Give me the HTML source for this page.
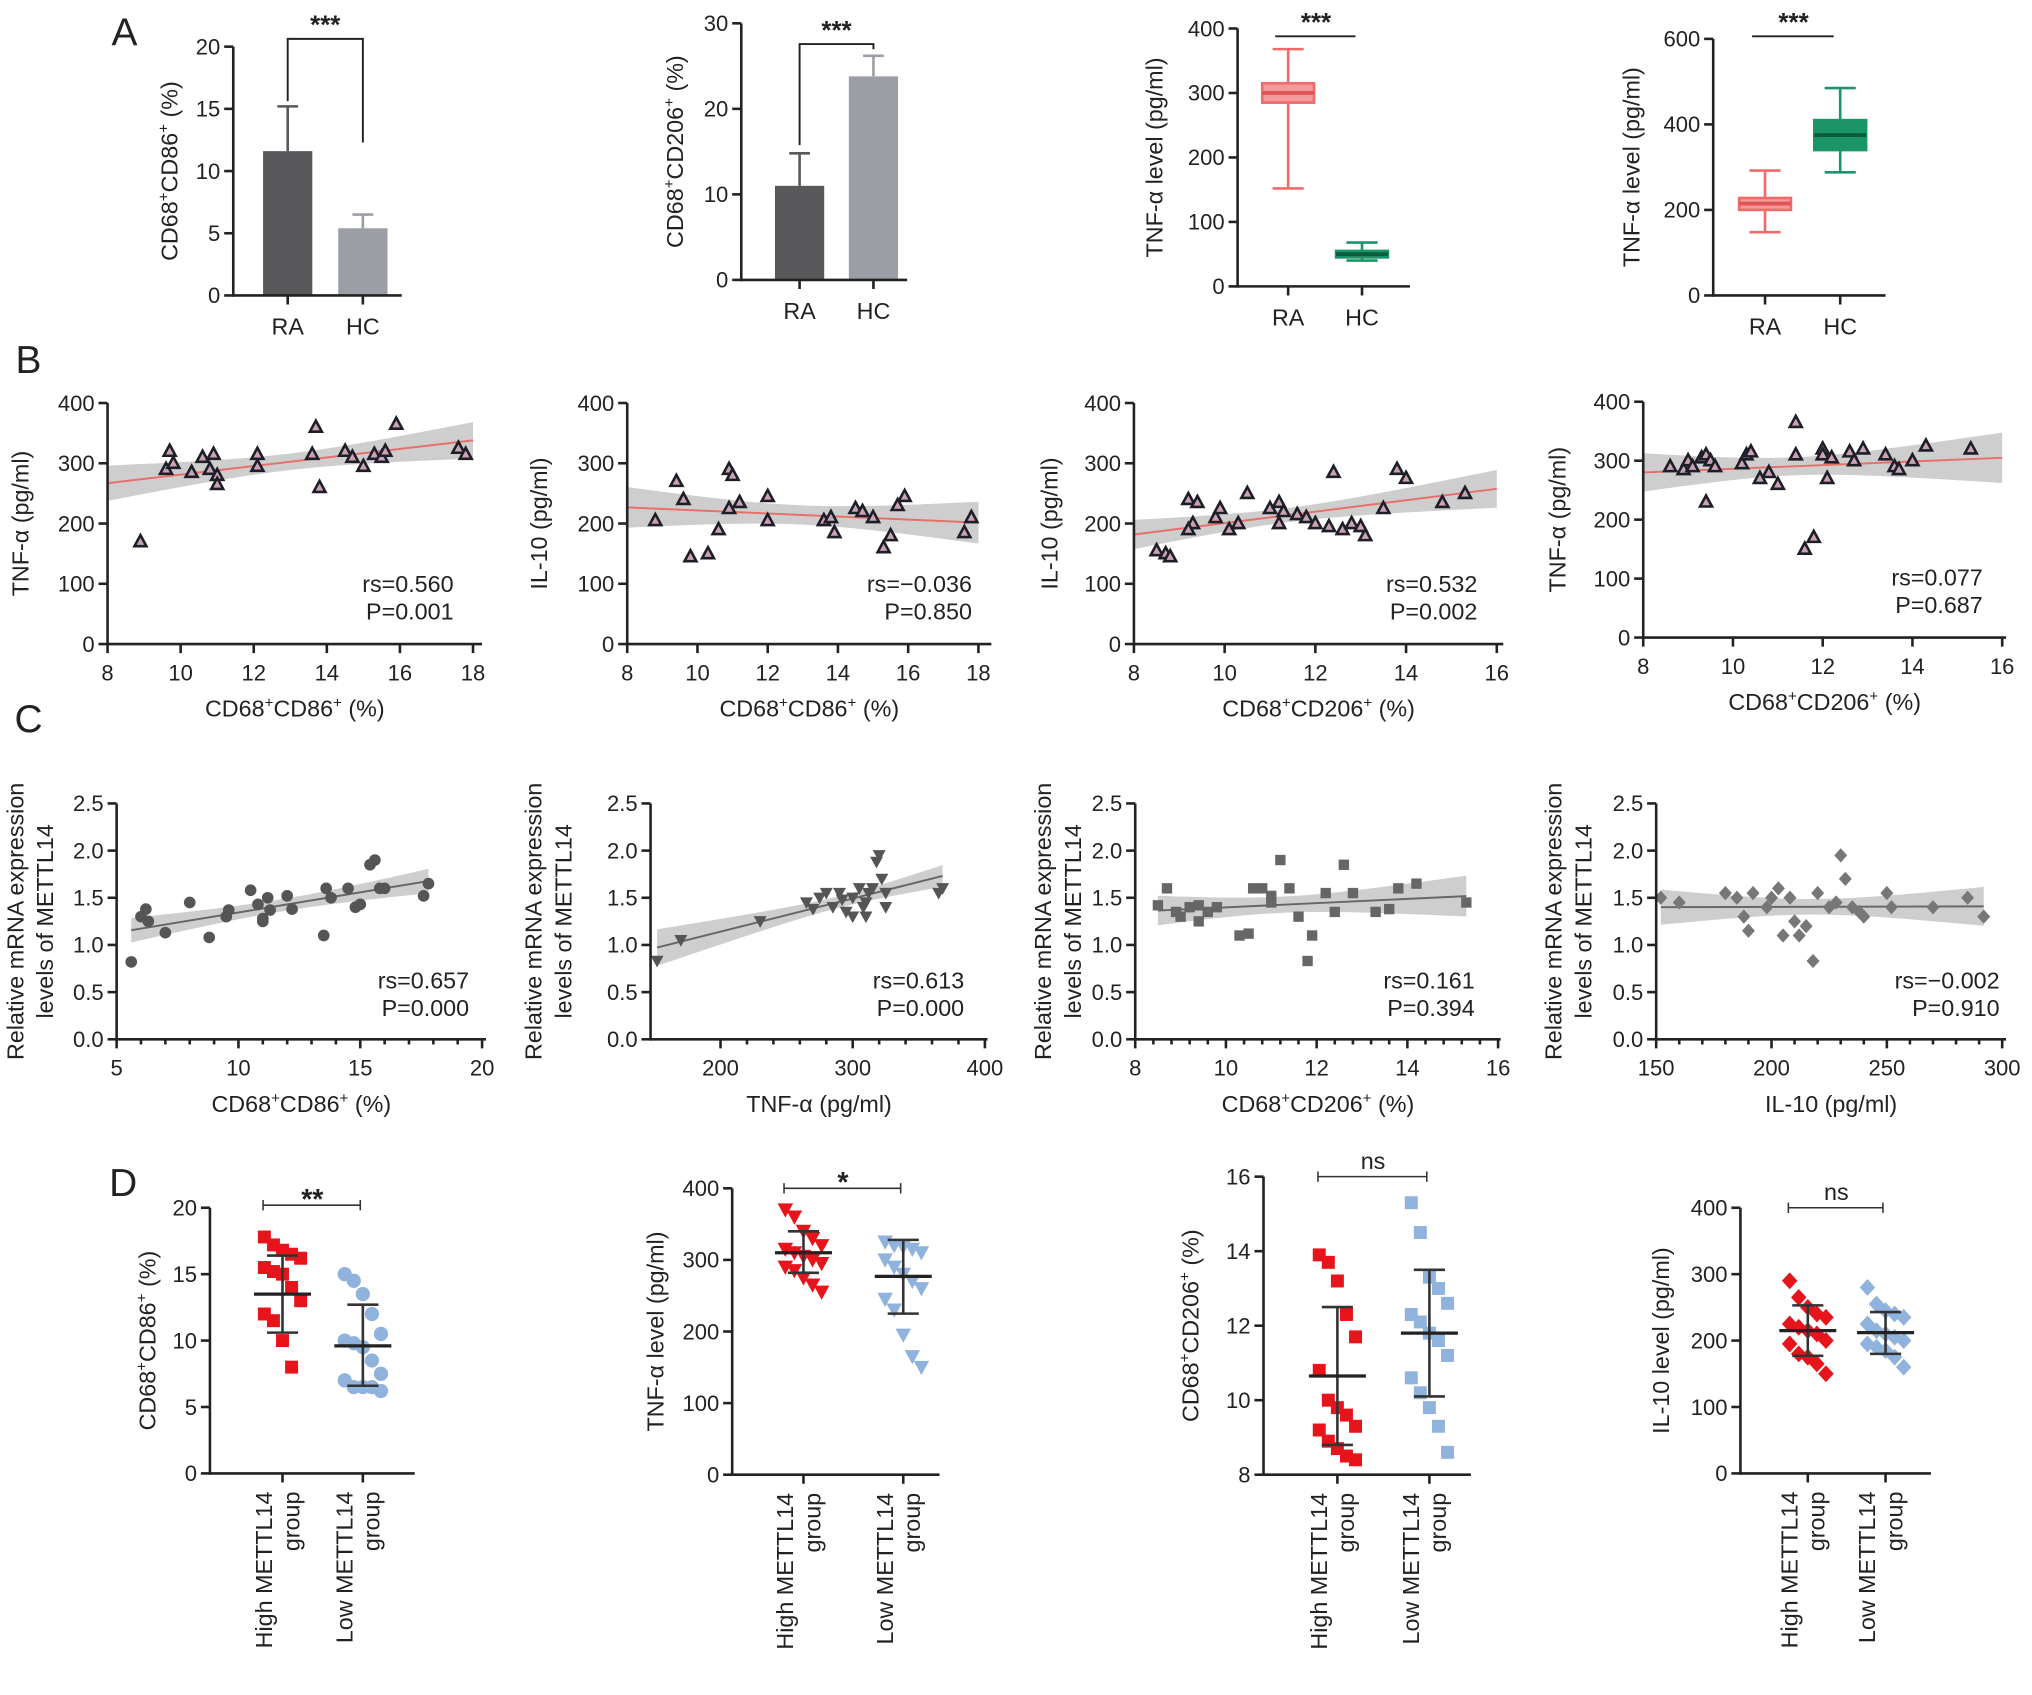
<!DOCTYPE html>
<html><head><meta charset="utf-8"><style>
html,body{margin:0;padding:0;background:#fff}
svg{display:block}
text{font-family:"Liberation Sans",Arial,sans-serif;fill:#222}
</style></head><body>
<svg id="fig" xmlns="http://www.w3.org/2000/svg" width="2032" height="1695" viewBox="0 0 1568 1308" preserveAspectRatio="none"></svg>
<script>
// ---------- DATA ----------
const catLabels=["RA","HC"];
const a1Vals=[11.6,5.4], a1Err=[15.2,6.5];
const a2Vals=[11.0,23.8], a2Err=[14.8,26.2];
const a3Box=[[152,285,300,315,368],[40,45,50,55,68]];
const a4Box=[[148,200,215,228,292],[288,340,375,410,485]];

const b1X=[8.9,9.6,9.7,9.8,10.3,10.6,10.9,10.8,11.0,11.0,12.1,12.1,13.6,13.7,13.8,14.5,14.7,15.0,15.3,15.5,15.9,15.6,17.6,17.8];
const b1Y=[170,290,320,300,285,310,315,290,280,265,295,315,315,360,260,320,310,295,315,310,365,320,325,315];
const b2X=[8.8,9.4,9.6,9.8,10.3,10.6,10.9,11.0,11.2,10.9,12.0,12.0,13.6,13.8,13.9,14.5,14.7,15.0,15.3,15.5,15.9,15.7,17.6,17.8];
const b2Y=[205,270,240,145,150,190,290,280,235,225,245,205,205,210,185,225,220,210,160,180,245,230,185,210];
const b3X=[8.5,8.7,8.8,9.2,9.4,9.3,9.2,9.8,9.9,10.1,10.5,10.3,11.0,11.2,11.3,11.2,11.6,11.8,12.0,12.3,12.4,12.6,12.8,13.0,13.1,13.5,13.8,14.0,14.8,15.3];
const b3Y=[155,150,145,240,235,200,190,210,225,190,250,200,225,235,220,200,215,210,200,195,285,190,200,195,180,225,290,275,235,250];
const b4X=[8.6,8.9,9.0,9.1,9.3,9.4,9.5,9.4,9.6,10.2,10.3,10.4,10.8,10.6,11.0,11.4,11.4,12.0,12.0,12.2,12.1,11.6,11.8,12.6,12.7,12.9,13.4,13.6,13.7,14.0,14.3,15.3];
const b4Y=[290,285,300,290,305,310,300,230,290,295,310,315,280,270,260,365,310,320,310,305,270,150,170,315,300,320,310,290,285,300,325,320];

const c1X=[5.6,6.0,6.2,6.3,7.0,8.0,8.8,9.5,9.6,10.5,10.8,11.0,11.2,11.3,11.0,12.0,12.2,13.5,13.8,13.6,14.5,14.8,15.0,15.4,15.6,15.8,16.0,17.6,17.8];
const c1Y=[0.82,1.3,1.38,1.25,1.13,1.45,1.08,1.3,1.37,1.58,1.43,1.28,1.5,1.37,1.25,1.52,1.38,1.1,1.5,1.6,1.6,1.4,1.43,1.85,1.9,1.6,1.6,1.52,1.65];
const c2X=[152,170,230,265,270,275,280,285,290,292,295,300,305,308,310,312,315,318,320,322,325,325,365,368,300,310];
const c2Y=[0.83,1.05,1.25,1.45,1.38,1.5,1.55,1.4,1.55,1.48,1.35,1.5,1.6,1.4,1.45,1.55,1.6,1.88,1.95,1.7,1.55,1.4,1.55,1.6,1.3,1.3];
const c3X=[8.5,8.7,8.9,9.0,9.2,9.4,9.4,9.6,9.8,10.3,10.5,10.6,10.8,11.0,11.2,11.4,11.6,11.8,11.9,12.2,12.4,12.6,12.8,13.3,13.6,13.8,14.2,15.3,11.0];
const c3Y=[1.42,1.6,1.35,1.3,1.4,1.42,1.25,1.35,1.4,1.1,1.12,1.6,1.6,1.45,1.9,1.6,1.3,0.83,1.1,1.55,1.35,1.85,1.55,1.35,1.38,1.6,1.65,1.45,1.52];
const c4X=[152,160,180,185,188,190,192,198,200,203,205,208,210,212,218,220,225,228,230,232,235,238,240,250,252,270,285,292,215];
const c4Y=[1.5,1.45,1.55,1.5,1.3,1.15,1.55,1.4,1.5,1.6,1.1,1.5,1.25,1.1,0.83,1.55,1.4,1.45,1.95,1.7,1.4,1.35,1.3,1.55,1.4,1.4,1.5,1.3,1.2];

const d1High=[17.8,17.2,16.8,16.5,16.2,15.5,15.2,15.0,14.0,13.0,12.0,11.5,10.0,8.0];
const d1Low=[15.0,14.5,13.5,12.0,10.5,10.0,9.8,9.5,8.5,7.5,7.0,6.5,6.5,6.5,6.2];
const d1Stats=[[13.5,16.4,10.6],[9.6,12.7,6.6]];
const d2High=[370,360,340,330,320,315,310,305,300,295,290,285,275,265,255];
const d2Low=[325,320,318,315,310,300,290,280,270,260,245,230,195,165,150];
const d2Stats=[[310,340,282],[277,328,225]];
const d3High=[13.9,13.7,13.2,12.3,11.7,10.8,10.0,9.8,9.6,9.3,9.2,8.9,8.7,8.5,8.4];
const d3Low=[15.3,14.5,13.3,13.0,12.6,12.3,12.1,11.8,11.6,11.2,10.6,10.2,9.8,9.3,8.6];
const d3Stats=[[10.65,12.5,8.8],[11.8,13.5,10.1]];
const d4High=[290,265,250,240,235,225,220,215,210,200,195,180,175,165,150];
const d4Low=[280,255,245,240,235,225,215,210,205,200,195,190,185,175,160];
const d4Stats=[[215,253,177],[212,243,180]];

// ---------- HELPERS ----------
const NS="http://www.w3.org/2000/svg";
const svg=document.getElementById('fig');
function mk(tag,attrs,parent){const e=document.createElementNS(NS,tag);for(const k in attrs)e.setAttribute(k,attrs[k]);(parent||svg).appendChild(e);return e;}
function lin(d0,d1,p0,p1){return v=>p0+(v-d0)*(p1-p0)/(d1-d0);}
function txt(parent,x,y,s,opt){
  opt=opt||{};
  const t=mk('text',{x:x,y:y,'font-size':opt.size||17,'text-anchor':opt.anchor||'middle'},parent);
  if(opt.rot)t.setAttribute('transform','rotate(-90 '+x+' '+y+')');
  if(opt.weight)t.setAttribute('font-weight',opt.weight);
  const parts=s.split('^+');
  parts.forEach((p,i)=>{
    if(p){const ts=mk('tspan',{},t);ts.textContent=p;}
    if(i<parts.length-1){const sp=mk('tspan',{'font-size':(opt.size||17)*0.65,dy:-7},t);sp.textContent='+';const rs=mk('tspan',{dy:7},t);rs.textContent='\u200b';}
  });
  return t;
}
function line(p,x1,y1,x2,y2,c,w){return mk('line',{x1:x1,y1:y1,x2:x2,y2:y2,stroke:c||'#222','stroke-width':w||2},p);}
function yAxis(g,ax,sy,ticks,fmt){
  line(g,ax,sy(ticks[0])+1,ax,sy(ticks[ticks.length-1]));
  ticks.forEach(t=>{line(g,ax-7,sy(t),ax,sy(t));txt(g,ax-10,sy(t)+6,fmt?fmt(t):String(t),{anchor:'end'});});
}
function label(ch,x,y){const t=txt(svg,x,y,ch,{size:30});}

// ---------- PANEL A ----------
function barPanel(id,vals,errs,ax,axEnd,y0,sy,ticks,centers,ytitle,tx,brY,brL,brR){
  const g=mk('g',{});
  
  
  const cols=['#58585a','#9c9ea6'];
  vals.forEach((v,i)=>{
    const b=mk('rect',{x:centers[i]-19,y:sy(v),width:38,height:sy(0)-sy(v),fill:cols[i]},g);
    
    
    line(g,centers[i],sy(v),centers[i],sy(errs[i]),cols[i],2);
    line(g,centers[i]-8,sy(errs[i]),centers[i]+8,sy(errs[i]),cols[i],2);
    line(g,centers[i],sy(0),centers[i],sy(0)+7);
    txt(g,centers[i],y0+30,catLabels[i],{size:18});
  });
  yAxis(g,ax,sy,ticks);
  line(g,ax,y0,axEnd,y0);
  const yt=txt(g,tx,(sy(ticks[0])+sy(ticks[ticks.length-1]))/2,ytitle,{rot:1,size:18});
  
  
  mk('polyline',{points:`${centers[0]},${brL} ${centers[0]},${brY} ${centers[1]},${brY} ${centers[1]},${brR}`,fill:'none',stroke:'#222','stroke-width':1.5},g);
  txt(g,(centers[0]+centers[1])/2,brY-4,'***',{size:20,weight:'bold'});
}
barPanel('panel-a1-bar-chart',a1Vals,a1Err,180,310,228,lin(0,20,228,36),[0,5,10,15,20],[222,280],'CD68^+CD86^+ (%)',137,30,78,110);
barPanel('panel-a2-bar-chart',a2Vals,a2Err,572,700,216,lin(0,30,216,18),[0,10,20,30],[617,674],'CD68^+CD206^+ (%)',527,34,112,38);

function boxPanel(id,boxes,ax,axEnd,y0,sy,ticks,centers,ytitle,tx,sigY){
  const g=mk('g',{});
  
  
  const fills=['#f59a9a','#1b9468'],strokes=['#ef6b6b','#1b9468'];
  boxes.forEach((b,i)=>{
    const c=centers[i],w=20;
    line(g,c,sy(b[0]),c,sy(b[1]),strokes[i],2);
    line(g,c,sy(b[3]),c,sy(b[4]),strokes[i],2);
    line(g,c-12,sy(b[0]),c+12,sy(b[0]),strokes[i],2);
    line(g,c-12,sy(b[4]),c+12,sy(b[4]),strokes[i],2);
    const r=mk('rect',{x:c-w,y:sy(b[3]),width:2*w,height:sy(b[1])-sy(b[3]),fill:fills[i],stroke:strokes[i],'stroke-width':2},g);
    
    
    line(g,c-w,sy(b[2]),c+w,sy(b[2]),i?'#0a5c3e':'#e05555',3);
    line(g,c,y0,c,y0+7);
    txt(g,c,y0+30,catLabels[i],{size:18});
  });
  yAxis(g,ax,sy,ticks);
  line(g,ax,y0,axEnd,y0);
  const yt=txt(g,tx,(sy(ticks[0])+sy(ticks[ticks.length-1]))/2,ytitle,{rot:1,size:18});
  
  
  line(g,centers[0]-10,sigY,centers[1]-5,sigY,'#222',1.5);
  txt(g,(centers[0]+centers[1])/2-7,sigY-4,'***',{size:20,weight:'bold'});
}
boxPanel('panel-a3-boxplot',a3Box,955,1088,221,lin(0,400,221,22),[0,100,200,300,400],[994,1051],'TNF-α level (pg/ml)',897,28);
boxPanel('panel-a4-boxplot',a4Box,1322,1455,228,lin(0,600,228,30),[0,200,400,600],[1362,1420],'TNF-α level (pg/ml)',1265,28);

// ---------- PANELS B & C ----------
function scatterPanel(id,xs,ys,sx,sy,xTicks,yTicks,x0,x1,y0,marker,lineCol,xTitle,yTitles,tx,rs,p,rsX,rsY,minor,fmtY){
  const g=mk('g',{});
  
  
  const n=xs.length,mx=xs.reduce((a,b)=>a+b)/n,my=ys.reduce((a,b)=>a+b)/n;
  let sxx=0,sxy=0;xs.forEach((x,i)=>{sxx+=(x-mx)**2;sxy+=(x-mx)*(ys[i]-my);});
  const b=sxy/sxx,a=my-b*mx;let ss=0;xs.forEach((x,i)=>{ss+=(ys[i]-a-b*x)**2;});
  const s=Math.sqrt(ss/(n-2));
  const lo=Math.min(...xs),hi=Math.max(...xs);
  const xa=minor?lo:xTicks[0],xb=minor?hi:xTicks[xTicks.length-1];
  const up=[],dn=[];
  for(let k=0;k<=40;k++){const x=xa+(xb-xa)*k/40;const h=2.07*s*Math.sqrt(1/n+(x-mx)**2/sxx);up.push(sx(x)+','+sy(a+b*x+h));dn.unshift(sx(x)+','+sy(a+b*x-h));}
  const band=mk('polygon',{points:up.concat(dn).join(' '),fill:'#bdbdbd','fill-opacity':0.75},g);
  
  
  const rl=line(g,sx(xa),sy(a+b*xa),sx(xb),sy(a+b*xb),lineCol,1.5);
  
  
  xs.forEach((x,i)=>{
    const px=sx(x),py=sy(ys[i]);let m;
    if(marker==='tri')m=mk('polygon',{points:`${px},${py-5} ${px-4.6},${py+3.5} ${px+4.6},${py+3.5}`,fill:'#c9a3b3',stroke:'#1e1e28','stroke-width':2},g);
    else if(marker==='circle')m=mk('circle',{cx:px,cy:py,r:4.5,fill:'#555'},g);
    else if(marker==='dtri')m=mk('polygon',{points:`${px-5},${py-4} ${px+5},${py-4} ${px},${py+5}`,fill:'#555'},g);
    else if(marker==='square')m=mk('rect',{x:px-4,y:py-4,width:8,height:8,fill:'#666'},g);
    else m=mk('polygon',{points:`${px},${py-5.5} ${px+5},${py} ${px},${py+5.5} ${px-5},${py}`,fill:'#777'},g);
    
    
  });
  yAxis(g,x0,sy,yTicks,fmtY);
  line(g,x0,y0,x1,y0);
  xTicks.forEach(t=>{line(g,sx(t),y0,sx(t),y0+7);txt(g,sx(t),y0+28,String(t),{size:17});});
  if(minor){for(let i=0;i<xTicks.length-1;i++){for(let k=1;k<5;k++){const v=xTicks[i]+(xTicks[i+1]-xTicks[i])*k/5;line(g,sx(v),y0,sx(v),y0+4);}}}
  const xt=txt(g,(x0+x1)/2,y0+56,xTitle,{size:18});
  
  
  const cy=(sy(yTicks[0])+sy(yTicks[yTicks.length-1]))/2;
  yTitles.forEach((t,i)=>{const yt=txt(g,tx+i*23,cy,t,{rot:1,size:18});});
  txt(g,rsX,rsY,rs,{anchor:'end',size:18});
  txt(g,rsX,rsY+21,p,{anchor:'end',size:18});
}
const byT=[0,100,200,300,400];
scatterPanel('panel-b1-scatter',b1X,b1Y,lin(8,18,83,365),lin(0,400,497,311),[8,10,12,14,16,18],byT,83,372,497,'tri','#e8706a','CD68^+CD86^+ (%)',['TNF-α (pg/ml)'],22,'rs=0.560','P=0.001',350,457);
scatterPanel('panel-b2-scatter',b2X,b2Y,lin(8,18,484,755),lin(0,400,497,311),[8,10,12,14,16,18],byT,484,765,497,'tri','#e8706a','CD68^+CD86^+ (%)',['IL-10 (pg/ml)'],422,'rs=−0.036','P=0.850',750,457);
scatterPanel('panel-b3-scatter',b3X,b3Y,lin(8,16,875,1155),lin(0,400,497,311),[8,10,12,14,16],byT,875,1160,497,'tri','#e8706a','CD68^+CD206^+ (%)',['IL-10 (pg/ml)'],816,'rs=0.532','P=0.002',1140,457);
scatterPanel('panel-b4-scatter',b4X,b4Y,lin(8,16,1268,1545),lin(0,400,492,310),[8,10,12,14,16],byT,1268,1548,492,'tri','#e8706a','CD68^+CD206^+ (%)',['TNF-α (pg/ml)'],1208,'rs=0.077','P=0.687',1530,452);

const cyT=[0,0.5,1,1.5,2,2.5],fc=v=>v.toFixed(1);
const cT=['Relative mRNA expression','levels of METTL14'];
scatterPanel('panel-c1-scatter',c1X,c1Y,lin(5,20,90,372),lin(0,2.5,802,620),[5,10,15,20],cyT,90,375,802,'circle','#666','CD68^+CD86^+ (%)',cT,18,'rs=0.657','P=0.000',362,763,true,fc);
scatterPanel('panel-c2-scatter',c2X,c2Y,lin(150,400,505,760),lin(0,2.5,802,620),[200,300,400],cyT,502,762,802,'dtri','#666','TNF-α (pg/ml)',cT,418,'rs=0.613','P=0.000',744,763,true,fc);
scatterPanel('panel-c3-scatter',c3X,c3Y,lin(8,16,876,1156),lin(0,2.5,802,620),[8,10,12,14,16],cyT,876,1158,802,'square','#666','CD68^+CD206^+ (%)',cT,811,'rs=0.161','P=0.394',1138,763,true,fc);
scatterPanel('panel-c4-scatter',c4X,c4Y,lin(150,300,1278,1545),lin(0,2.5,802,620),[150,200,250,300],cyT,1278,1548,802,'diamond','#666','IL-10 (pg/ml)',cT,1205,'rs=−0.002','P=0.910',1543,763,true,fc);

// ---------- PANEL D ----------
function dotPanel(id,high,low,stats,ax,axEnd,sy,ticks,centers,marker,ytitle,tx,sig,sigY){
  const g=mk('g',{});
  
  
  const y0=sy(ticks[0]);
  [high,low].forEach((arr,gi)=>{
    const col=gi?'#8fb3dd':'#e8141c';
    arr.forEach((v,i)=>{
      const px=centers[gi]+((i%5)-2)*7,py=sy(v);let m;
      if(marker==='sq')m=mk('rect',{x:px-5,y:py-5,width:10,height:10,fill:col},g);
      else if(marker==='mix'&&gi===0)m=mk('rect',{x:px-5,y:py-5,width:10,height:10,fill:col},g);
      else if(marker==='mix')m=mk('circle',{cx:px,cy:py,r:5.5,fill:col},g);
      else if(marker==='dtri')m=mk('polygon',{points:`${px-6},${py-5} ${px+6},${py-5} ${px},${py+6}`,fill:col},g);
      else m=mk('polygon',{points:`${px},${py-6.5} ${px+6},${py} ${px},${py+6.5} ${px-6},${py}`,fill:col},g);
      
      
    });
    const c=centers[gi],st=stats[gi];
    line(g,c,sy(st[1]),c,sy(st[2]),'#333',2);
    line(g,c-12,sy(st[1]),c+12,sy(st[1]),'#333',2);
    line(g,c-12,sy(st[2]),c+12,sy(st[2]),'#333',2);
    const mn=line(g,c-22,sy(st[0]),c+22,sy(st[0]),'#222',2.5);
    
    
    line(g,c,y0,c,y0+7);
    txt(g,c-8,y0+14,gi?'Low METTL14':'High METTL14',{rot:1,anchor:'end',size:18});
    txt(g,c+13,y0+14,'group',{rot:1,anchor:'end',size:18});
  });
  yAxis(g,ax,sy,ticks);
  line(g,ax,y0,axEnd,y0);
  const yt=txt(g,tx,(sy(ticks[0])+sy(ticks[ticks.length-1]))/2,ytitle,{rot:1,size:18});
  
  
  line(g,centers[0]-15,sigY,centers[1]-2,sigY,'#333',1.2);
  line(g,centers[0]-15,sigY-4,centers[0]-15,sigY+4,'#333',1.2);
  line(g,centers[1]-2,sigY-4,centers[1]-2,sigY+4,'#333',1.2);
  txt(g,(centers[0]+centers[1])/2-8,sigY-(sig==='ns'?6:-3),sig,{size:sig==='ns'?18:22,weight:sig==='ns'?'normal':'bold'});
}
dotPanel('panel-d1-dot-plot',d1High,d1Low,d1Stats,162,320,lin(0,20,1137,932),[0,5,10,15,20],[218,280],'mix','CD68^+CD86^+ (%)',120,'**',930);
dotPanel('panel-d2-dot-plot',d2High,d2Low,d2Stats,565,725,lin(0,400,1138,917),[0,100,200,300,400],[620,697],'dtri','TNF-α level (pg/ml)',512,'*',917);
dotPanel('panel-d3-dot-plot',d3High,d3Low,d3Stats,975,1135,lin(8,16,1138,908),[8,10,12,14,16],[1032,1103],'sq','CD68^+CD206^+ (%)',925,'ns',908);
dotPanel('panel-d4-dot-plot',d4High,d4Low,d4Stats,1343,1490,lin(0,400,1137,932),[0,100,200,300,400],[1395,1455],'dia','IL-10 level (pg/ml)',1288,'ns',932);

label('A',96,35);label('B',22,288);label('C',22,565);label('D',95,923);
</script>
</body></html>
